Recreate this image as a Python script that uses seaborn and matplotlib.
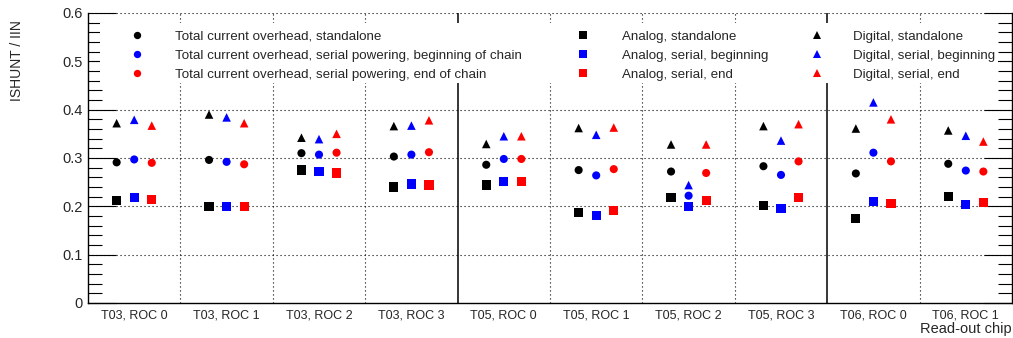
import numpy as np
import pandas as pd
import matplotlib
matplotlib.use("Agg")
import matplotlib.pyplot as plt
from matplotlib.lines import Line2D
from matplotlib.patches import Rectangle
from matplotlib.ticker import MultipleLocator
import seaborn as sns

# read-out chips on the x axis
chips = ["T03, ROC 0", "T03, ROC 1", "T03, ROC 2", "T03, ROC 3",
         "T05, ROC 0", "T05, ROC 1", "T05, ROC 2", "T05, ROC 3",
         "T06, ROC 0", "T06, ROC 1"]

# ISHUNT / IIN values
total_standalone = [0.291, 0.296, 0.310, 0.303, 0.286, 0.275, 0.272, 0.283, 0.268, 0.288]
total_begin = [0.297, 0.292, 0.307, 0.307, 0.298, 0.264, 0.222, 0.265, 0.311, 0.274]
total_end = [0.290, 0.287, 0.311, 0.312, 0.298, 0.277, 0.269, 0.293, 0.293, 0.272]
analog_standalone = [0.212, 0.200, 0.275, 0.240, 0.244, 0.188, 0.218, 0.201, 0.175, 0.220]
analog_begin = [0.218, 0.200, 0.272, 0.246, 0.251, 0.181, 0.199, 0.195, 0.210, 0.204]
analog_end = [0.214, 0.200, 0.269, 0.244, 0.251, 0.192, 0.212, 0.218, 0.206, 0.208]
digital_standalone = [0.372, 0.390, 0.342, 0.366, 0.329, 0.362, 0.328, 0.366, 0.361, 0.357]
digital_begin = [0.379, 0.384, 0.339, 0.367, 0.345, 0.348, 0.244, 0.336, 0.415, 0.346]
digital_end = [0.367, 0.372, 0.350, 0.378, 0.345, 0.363, 0.328, 0.370, 0.380, 0.334]

series = {
    ("total", "standalone"): total_standalone,
    ("total", "begin"): total_begin,
    ("total", "end"): total_end,
    ("analog", "standalone"): analog_standalone,
    ("analog", "begin"): analog_begin,
    ("analog", "end"): analog_end,
    ("digital", "standalone"): digital_standalone,
    ("digital", "begin"): digital_begin,
    ("digital", "end"): digital_end,
}

rows = []
for (kind, config), vals in series.items():
    for chip, v in zip(chips, vals):
        rows.append({"chip": chip, "kind": kind, "config": config, "value": v})
df = pd.DataFrame(rows)

# dodge the three configurations inside each chip
dodge = {"standalone": -0.19, "begin": 0.0, "end": 0.19}
df["xpos"] = pd.Categorical(df["chip"], categories=chips).codes + df["config"].map(dodge)

palette = {"standalone": "black", "begin": "#0000ff", "end": "#ff0000"}
markers = {"total": "o", "analog": "s", "digital": "^"}
msize = {"total": 34, "analog": 44, "digital": 38}

sns.set_style("ticks")
plt.rcParams["font.family"] = ["Liberation Sans", "DejaVu Sans"]

fig = plt.figure(figsize=(10.13, 3.38), dpi=100)
ax = fig.add_axes([88 / 1013, 1 - 303 / 338, 924 / 1013, 290 / 338])

for kind in ["total", "analog", "digital"]:
    sub = df[df["kind"] == kind]
    sns.scatterplot(data=sub, x="xpos", y="value", hue="config", palette=palette,
                    marker=markers[kind], s=msize[kind], linewidth=0,
                    legend=False, ax=ax, zorder=3)

ax.set_xlim(-0.5, len(chips) - 0.5)
ax.set_ylim(0, 0.6)

# category labels and separators
ax.set_xticks(range(len(chips)))
ax.set_xticklabels(chips, fontsize=9)
ax.tick_params(axis="x", which="both", length=0, pad=5)
bounds = np.arange(0.5, len(chips) - 0.5, 1.0)
for b in bounds:
    if b in (3.5, 7.5):
        ax.axvline(b, color="black", lw=1.1, zorder=1.5)
    else:
        ax.axvline(b, color="black", lw=0.8, ls=(0, (1, 2.6)), zorder=0.5)

# y axis: ROOT-like inward ticks on both sides
ax.yaxis.set_major_locator(MultipleLocator(0.1))
ax.yaxis.set_minor_locator(MultipleLocator(0.02))
ax.set_yticks(np.arange(0, 0.61, 0.1))
ax.set_yticklabels(["0", "0.1", "0.2", "0.3", "0.4", "0.5", "0.6"])
ax.tick_params(axis="y", which="both", direction="in", left=True, right=True,
               labelsize=10.5, pad=4, width=0.8, color="black")
ax.tick_params(axis="y", which="major", length=20)
ax.tick_params(axis="y", which="minor", length=10)
for yv in np.arange(0.1, 0.61, 0.1):
    ax.axhline(yv, color="black", lw=0.8, ls=(0, (1, 2.6)), zorder=0.5)

for side in ["left", "bottom", "right"]:
    ax.spines[side].set_color("black")
    ax.spines[side].set_linewidth(1.0)
ax.spines["top"].set_visible(False)

ax.set_xlabel("Read-out chip", fontsize=10.5, loc="right")
ax.xaxis.set_label_coords(1.0, -0.089)
ax.xaxis.label.set_va("center")
ax.set_ylabel("ISHUNT / IIN", fontsize=10, loc="top")
ax.yaxis.set_label_coords(-0.077, 0.976)
ax.yaxis.label.set_va("center")

# white legend background hiding the grid
ax.add_patch(Rectangle((0.013, 0.759), 0.972, 0.207, transform=ax.transAxes,
                       facecolor="white", edgecolor="none", zorder=1.8))

legend_sets = [
    ("o", 5.3, ["Total current overhead, standalone",
                "Total current overhead, serial powering, beginning of chain",
                "Total current overhead, serial powering, end of chain"], 0.0458, 2.35),
    ("s", 6.0, ["Analog, standalone", "Analog, serial, beginning", "Analog, serial, end"],
     0.5285, 2.4),
    ("^", 5.2, ["Digital, standalone", "Digital, serial, beginning", "Digital, serial, end"],
     0.7817, 2.2),
]
legs = []
for mk, ms, labels, xa, pad in legend_sets:
    handles = [Line2D([], [], ls="none", marker=mk, markersize=ms, color=c,
                      markeredgewidth=0) for c in ["black", "#0000ff", "#ff0000"]]
    leg = ax.legend(handles, labels, loc="upper left", bbox_to_anchor=(xa, 0.94),
                    frameon=False, fontsize=9.6, handlelength=1.0, handletextpad=pad,
                    labelspacing=0.5, borderpad=0, borderaxespad=0)
    leg.set_zorder(5)
    legs.append(leg)
for leg in legs[:-1]:
    ax.add_artist(leg)

fig.savefig("out.png", dpi=100, facecolor="white")
